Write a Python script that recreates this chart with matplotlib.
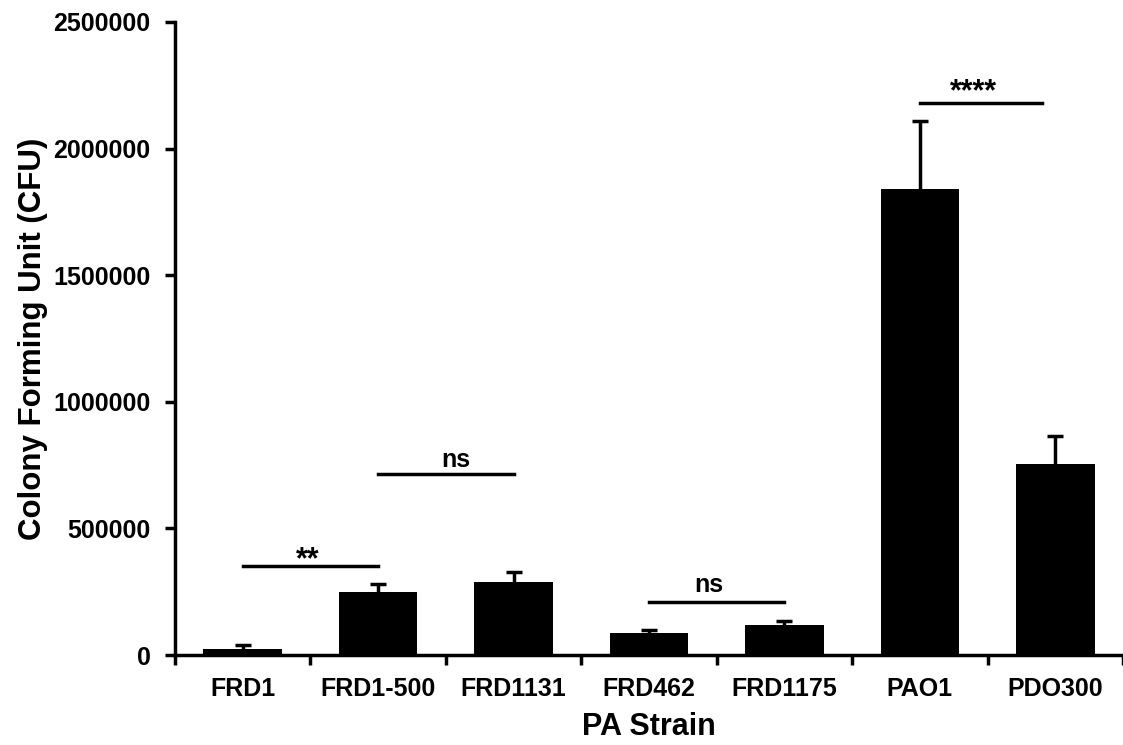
import numpy as np
import matplotlib.pyplot as plt

strains = ["FRD1", "FRD1-500", "FRD1131", "FRD462", "FRD1175", "PAO1", "PDO300"]
cfu = [25000, 249000, 288000, 87000, 118000, 1840000, 754000]
err = [13000, 31000, 40000, 12000, 16000, 269000, 111000]

# significance brackets: (from bar, to bar, height, label)
sig_from = [0, 1, 3, 5]
sig_to = [1, 2, 4, 5.9]
sig_y = [351000, 715000, 209000, 2180000]
sig_text = ["**", "ns", "ns", "****"]
# label nudges in points
sig_dx = [-2, 7, -6, -5]
sig_dy = [-1.7, 4.7, 7.6, 2]

plt.rcParams['font.family'] = ['Liberation Sans', 'DejaVu Sans']
plt.rcParams['font.weight'] = 'bold'

fig = plt.figure(figsize=(11.23, 7.45), dpi=100)
ax = fig.add_axes([0.1558, 0.1208, 0.8442, 0.8497])

x = np.arange(len(strains))
bars = ax.bar(x, cfu, width=0.58, color="black",
              yerr=[np.zeros(len(err)), err],
              error_kw=dict(ecolor="black", elinewidth=2.5, capsize=6, capthick=2.5))
# only the upper cap is wanted
caps = bars.errorbar.lines[1]
caps[0].set_visible(False)

for a, b, h, t, dx, dy in zip(sig_from, sig_to, sig_y, sig_text, sig_dx, sig_dy):
    ax.plot([a, b], [h, h], color="black", lw=2.5)
    fs = 22 if t.startswith("*") else 18
    ax.annotate(t, ((a + b) / 2, h), xytext=(dx, dy), textcoords="offset points",
                ha="center", va="baseline", fontsize=fs, fontweight="bold")

ax.set_xlim(-0.5, 6.5)
ax.set_ylim(0, 2500000)
ax.set_yticks(np.arange(0, 2500001, 500000))
ax.set_yticklabels([str(v) for v in range(0, 2500001, 500000)], fontsize=18, fontweight="bold")

ax.set_xticks(np.arange(-0.5, 6.6, 1))
ax.set_xticklabels([])
ax.set_xticks(x, minor=True)
ax.set_xticklabels(strains, minor=True, fontsize=18, fontweight="bold")
ax.tick_params(axis="x", which="minor", length=0, pad=16)
ax.tick_params(axis="both", which="major", width=2.5, length=7, direction="out")
ax.tick_params(axis="y", which="major", pad=10.5)

ax.spines["top"].set_visible(False)
ax.spines["right"].set_visible(False)
ax.spines["left"].set_linewidth(2.5)
ax.spines["bottom"].set_linewidth(2.5)

ax.set_xlabel("PA Strain", fontsize=22, fontweight="bold", labelpad=8)
ax.set_ylabel("Colony Forming Unit (CFU)", fontsize=22.5, fontweight="bold", labelpad=4)

fig.savefig("out.png", dpi=100)
